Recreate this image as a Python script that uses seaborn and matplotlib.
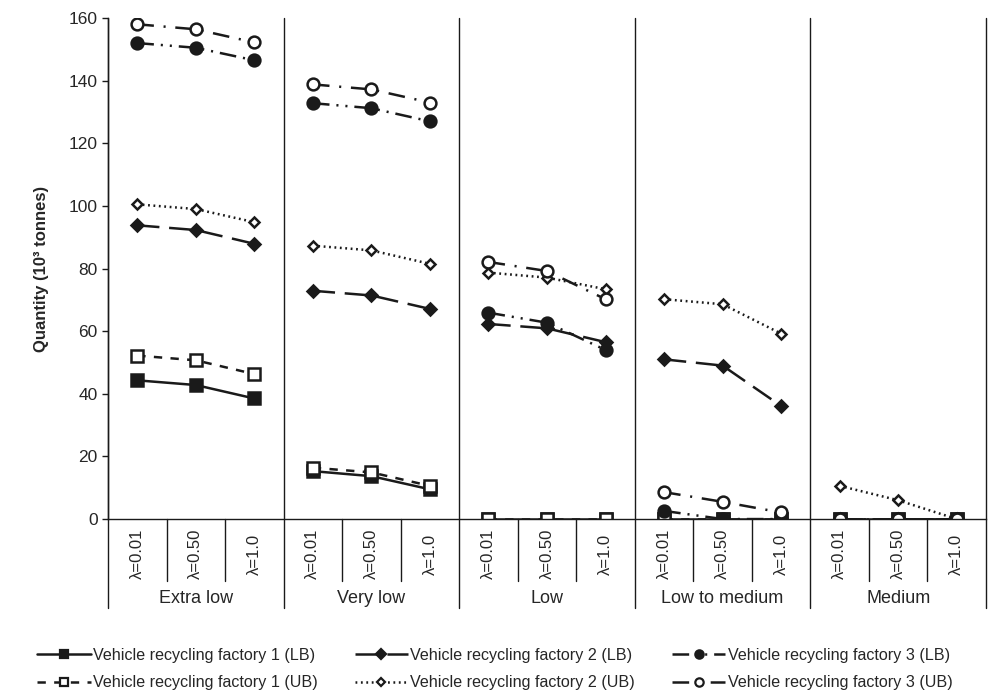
import matplotlib.pyplot as plt
from matplotlib.lines import Line2D
import seaborn as sns
import pandas as pd
import numpy as np

groups = ['Extra low', 'Very low', 'Low', 'Low to medium', 'Medium']
lambdas = ['λ=0.01', 'λ=0.50', 'λ=1.0']

# values per group: extra low, very low, low, low to medium, medium (10^3 tonnes)
f1_lb = [44.3, 42.8, 38.5, 15.3, 13.7, 9.5, 0, 0, 0, 0, 0, 0, 0, 0, 0]
f1_ub = [52.2, 50.7, 46.3, 16.4, 14.9, 10.6, 0, 0, 0, 0, 0, 0, 0, 0, 0]
f2_lb = [93.8, 92.3, 87.9, 72.9, 71.4, 67.1, 62.3, 60.9, 56.5, 51.0, 49.0, 36.1, 0, 0, 0]
f2_ub = [100.5, 99.0, 94.8, 87.3, 85.8, 81.5, 78.7, 77.1, 73.4, 70.2, 68.6, 59.2, 10.6, 6.0, 0]
f3_lb = [152.0, 150.5, 146.5, 132.8, 131.2, 127.0, 65.9, 62.7, 54.0, 2.6, 0, 0, 0, 0, 0]
f3_ub = [158.0, 156.4, 152.2, 138.8, 137.2, 133.0, 82.1, 79.2, 70.2, 8.6, 5.5, 2.1, 0, 0, 0]

labels = ['Vehicle recycling factory 1 (LB)', 'Vehicle recycling factory 1 (UB)',
          'Vehicle recycling factory 2 (LB)', 'Vehicle recycling factory 2 (UB)',
          'Vehicle recycling factory 3 (LB)', 'Vehicle recycling factory 3 (UB)']
series = [f1_lb, f1_ub, f2_lb, f2_ub, f3_lb, f3_ub]

ink = '#1a1a1a'
styles = [
    dict(marker='s', markersize=8.5, markerfacecolor=ink, linestyle='-'),
    dict(marker='s', markersize=8.5, markerfacecolor='white', linestyle=(0, (6, 6))),
    dict(marker='D', markersize=6.5, markerfacecolor=ink, linestyle=(0, (16, 7))),
    dict(marker='D', markersize=5.5, markerfacecolor='white', linestyle=(0, (1.3, 2.6))),
    dict(marker='o', markersize=8.5, markerfacecolor=ink, linestyle=(0, (12, 5, 1.5, 5, 1.5, 5))),
    dict(marker='o', markersize=8.5, markerfacecolor='white', linestyle=(0, (12, 7, 1.5, 7))),
]
legend_ms = [6, 6, 5, 4.5, 6, 6]

sns.set_style('ticks')
plt.rcParams['font.family'] = ['Liberation Sans', 'DejaVu Sans']
plt.rcParams['lines.scale_dashes'] = False

fig = plt.figure(figsize=(9.88, 6.93), dpi=100)
ax = fig.add_axes([0.1093, 0.251, 0.8887, 0.723])

pos = np.arange(15)
grp = np.repeat(np.arange(5), 3)
handles = []
for vals, lab, st, lms in zip(series, labels, styles, legend_ms):
    df = pd.DataFrame({'pos': pos, 'value': vals, 'group': grp})
    sns.lineplot(data=df, x='pos', y='value', units='group', estimator=None,
                 color=ink, linewidth=1.8, markeredgecolor=ink, markeredgewidth=1.8,
                 legend=False, ax=ax, **st)
    hst = dict(st, markersize=lms)
    handles.append(Line2D([], [], color=ink, linewidth=1.8, markeredgecolor=ink,
                          markeredgewidth=1.6, label=lab, **hst))

ax.set_xlim(-0.5, 14.5)
ax.set_ylim(0, 160)
ax.set_yticks(np.arange(0, 161, 20))
ax.set_xticks([])
ax.set_xlabel('')
ax.set_ylabel('Quantity (10³ tonnes)', fontsize=12, fontweight='bold', labelpad=14)
ax.tick_params(axis='y', labelsize=12.5, direction='out', length=4, width=1, color=ink)
for s in ['top', 'right']:
    ax.spines[s].set_visible(False)
for s in ['left', 'bottom']:
    ax.spines[s].set_color(ink)
    ax.spines[s].set_linewidth(1)

trans = ax.get_xaxis_transform()
for i in range(15):
    ax.text(i, -0.07, lambdas[i % 3], rotation=90, ha='center', va='center',
            fontsize=12, transform=trans)
for g in range(5):
    ax.text(3 * g + 1, -0.158, groups[g], ha='center', va='center',
            fontsize=13, transform=trans)
for x in np.arange(-0.5, 15, 1):
    if (x + 0.5) % 3 == 0:
        ax.plot([x, x], [1, -0.178], color=ink, linewidth=1, transform=trans, clip_on=False)
    else:
        ax.plot([x, x], [0, -0.124], color=ink, linewidth=1, transform=trans, clip_on=False)

fig.legend(handles=handles, loc='center', bbox_to_anchor=(0.501, 0.0345), ncol=3,
           frameon=False, fontsize=11.6, handlelength=3.3, columnspacing=2.3,
           labelspacing=0.78, handletextpad=0.15)

plt.savefig('out.png', dpi=100)
plt.close()
